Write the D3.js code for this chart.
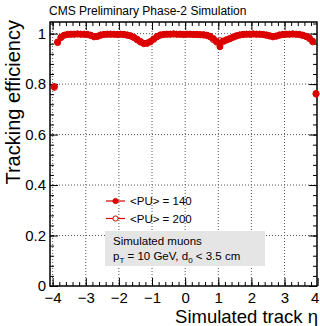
<!DOCTYPE html>
<html><head><meta charset="utf-8">
<script src="https://cdn.jsdelivr.net/npm/d3@7"></script>
<style>body{margin:0;background:#fff}svg{display:block;font-family:"Liberation Sans",Arial,sans-serif}</style>
</head><body><svg id="c" width="320" height="326"></svg>
<script>
const etaCenters = d3.range(80).map(i => +(-3.95 + 0.1 * i).toFixed(2));
const eff140 = [0.790,0.967,0.986,0.994,0.997,0.998,0.998,0.999,0.998,0.998,
 0.997,0.994,0.989,0.990,0.995,0.997,0.998,0.998,0.998,0.997,
 0.998,0.997,0.995,0.992,0.986,0.978,0.969,0.962,0.963,0.969,
 0.979,0.989,0.995,0.997,0.998,0.998,0.999,0.998,0.998,0.997,
 0.998,0.998,0.997,0.997,0.996,0.996,0.994,0.990,0.981,0.969,
 0.948,0.971,0.976,0.981,0.987,0.992,0.995,0.997,0.998,0.998,
 0.999,0.998,0.998,0.997,0.995,0.992,0.989,0.991,0.995,0.997,
 0.998,0.998,0.999,0.998,0.997,0.994,0.990,0.983,0.970,0.763];
const eff200 = [0.787,0.964,0.984,0.993,0.996,0.997,0.997,0.998,0.997,0.997,
 0.996,0.992,0.987,0.988,0.993,0.996,0.997,0.997,0.997,0.996,
 0.997,0.996,0.993,0.990,0.984,0.975,0.966,0.960,0.961,0.967,
 0.977,0.987,0.993,0.996,0.997,0.997,0.998,0.997,0.997,0.996,
 0.997,0.997,0.996,0.996,0.995,0.994,0.992,0.987,0.976,0.966,
 0.972,0.968,0.974,0.979,0.985,0.990,0.994,0.996,0.997,0.997,
 0.998,0.997,0.997,0.996,0.993,0.990,0.987,0.989,0.993,0.996,
 0.997,0.997,0.998,0.997,0.996,0.992,0.988,0.980,0.967,0.760];
const err140 = etaCenters.map((e,i) => (i===0||i===79) ? 0.012 : 0.002);
const err200 = etaCenters.map((e,i) => (i===0||i===79) ? 0.012 : 0.002);
const xTicks = [-4,-3,-2,-1,0,1,2,3,4];
const yTicks = [0,0.2,0.4,0.6,0.8,1];
const seriesLabels = ["<PU> = 140","<PU> = 200"];

const svg = d3.select("#c");
const x = d3.scaleLinear().domain([-4.08, 3.98]).range([50, 317]);
const y = d3.scaleLinear().domain([0, 1.046]).range([286, 22]);
const red = "#dd0000";
const L = 50, R = 317, T = 22, B = 286;

// gridlines
const g = svg.append("g");
g.selectAll("line.gx").data(xTicks.filter(t => x(t) > L+1 && x(t) < R-1)).enter().append("line")
 .attr("x1", d=>x(d)).attr("x2", d=>x(d)).attr("y1", T).attr("y2", B)
 .attr("stroke","#555").attr("stroke-width",1).attr("stroke-dasharray","1,2");
g.selectAll("line.gy").data(yTicks.filter(t => t>0)).enter().append("line")
 .attr("x1", L).attr("x2", R).attr("y1", d=>y(d)).attr("y2", d=>y(d))
 .attr("stroke","#555").attr("stroke-width",1).attr("stroke-dasharray","1,2");

// axes
const xMinor = d3.range(-4, 4.001, 0.2).map(v=>+v.toFixed(2)).filter(v => x(v)>=L && x(v)<=R);
const yMinor = d3.range(0, 1.041, 0.04).map(v=>+v.toFixed(2));
svg.append("g").attr("transform",`translate(0,${B})`)
 .call(d3.axisBottom(x).tickValues(xMinor).tickSize(-4).tickFormat("").tickSizeOuter(0));
const xb = svg.append("g").attr("transform",`translate(0,${B})`)
 .call(d3.axisBottom(x).tickValues(xTicks).tickSize(-8).tickPadding(6)
   .tickFormat(d => d < 0 ? "\u2212" + Math.abs(d) : d).tickSizeOuter(0));
xb.selectAll(".tick text").filter(d => d === 4).attr("dx", -3);
svg.append("g").attr("transform",`translate(0,${T})`)
 .call(d3.axisTop(x).tickValues(xMinor).tickSize(-4).tickFormat("").tickSizeOuter(0));
svg.append("g").attr("transform",`translate(0,${T})`)
 .call(d3.axisTop(x).tickValues(xTicks.filter(t=>x(t)<=R)).tickSize(-8).tickFormat("").tickSizeOuter(0));
svg.append("g").attr("transform",`translate(${L},0)`)
 .call(d3.axisLeft(y).tickValues(yMinor).tickSize(-4).tickFormat("").tickSizeOuter(0));
svg.append("g").attr("transform",`translate(${L},0)`)
 .call(d3.axisLeft(y).tickValues(yTicks).tickSize(-8).tickPadding(4).tickFormat(d3.format("~g")).tickSizeOuter(0));
svg.append("g").attr("transform",`translate(${R},0)`)
 .call(d3.axisRight(y).tickValues(yMinor).tickSize(-4).tickFormat("").tickSizeOuter(0));
svg.append("g").attr("transform",`translate(${R},0)`)
 .call(d3.axisRight(y).tickValues(yTicks).tickSize(-8).tickFormat("").tickSizeOuter(0));
svg.selectAll(".domain").remove();
svg.selectAll(".tick line").attr("stroke","#000").attr("stroke-width",1);
svg.selectAll(".tick text").attr("font-size",15).attr("fill","#000").attr("font-family","Liberation Sans, Arial, sans-serif");
svg.append("rect").attr("x",L).attr("y",T).attr("width",R-L).attr("height",B-T)
 .attr("fill","none").attr("stroke","#000").attr("stroke-width",1.5);

// data
function drawSeries(vals, errs, filled) {
  const gs = svg.append("g");
  gs.selectAll("line").data(vals).enter().append("line")
   .attr("x1",(d,i)=>x(etaCenters[i])).attr("x2",(d,i)=>x(etaCenters[i]))
   .attr("y1",(d,i)=>y(d-errs[i])).attr("y2",(d,i)=>y(d+errs[i]))
   .attr("stroke",red).attr("stroke-width",1.2);
  gs.selectAll("circle").data(vals).enter().append("circle")
   .attr("cx",(d,i)=>x(etaCenters[i])).attr("cy",d=>y(d)).attr("r",3)
   .attr("fill", filled ? red : "none").attr("stroke",red).attr("stroke-width",1);
}
drawSeries(eff140, err140, true);
drawSeries(eff200, err200, false);

// legend
const leg = svg.append("g");
seriesLabels.forEach((lab,i) => {
  const yy = 201 + i*17.5;
  leg.append("line").attr("x1",106).attr("x2",125).attr("y1",yy).attr("y2",yy).attr("stroke",red).attr("stroke-width",1.2);
  leg.append("circle").attr("cx",115.5).attr("cy",yy).attr("r",2.6)
   .attr("fill", i===0 ? red : "#fff").attr("stroke",red).attr("stroke-width",1);
  leg.append("text").attr("x",130).attr("y",yy+4).attr("font-size",11.5).text(lab);
});
svg.append("rect").attr("x",105).attr("y",231).attr("width",160).attr("height",35).attr("fill","#e5e5e5");
svg.append("text").attr("x",113).attr("y",245).attr("font-size",11.5).text("Simulated muons");
const t2 = svg.append("text").attr("x",113).attr("y",260).attr("font-size",11.5);
t2.append("tspan").text("p");
t2.append("tspan").attr("font-size",8).attr("dy",3).text("T");
t2.append("tspan").attr("dy",-3).text(" = 10 GeV, d");
t2.append("tspan").attr("font-size",8).attr("dy",3).text("0");
t2.append("tspan").attr("dy",-3).text(" < 3.5 cm");

// titles
svg.append("text").attr("x",49).attr("y",15).attr("font-size",12).text("CMS Preliminary Phase-2 Simulation");
svg.append("text").attr("transform","translate(20,20) rotate(-90)").attr("text-anchor","end")
 .attr("font-size",20).text("Tracking efficiency");
svg.append("text").attr("x",318).attr("y",323).attr("text-anchor","end").attr("font-size",18.5).text("Simulated track \u03b7");
</script></body></html>
